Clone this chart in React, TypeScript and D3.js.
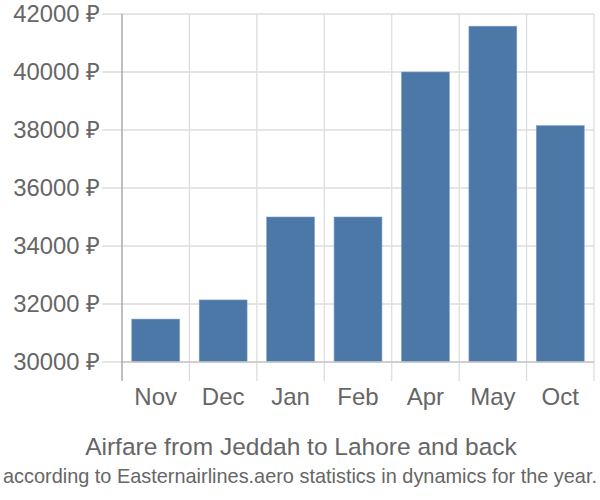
import React from "react";
import * as d3 from "d3";

const months = ["Nov", "Dec", "Jan", "Feb", "Apr", "May", "Oct"];
const prices = [31480, 32140, 35000, 35000, 40000, 41580, 38150];
const yTicks = [30000, 32000, 34000, 36000, 38000, 40000, 42000];
const title = "Airfare from Jeddah to Lahore and back";
const subtitle = "according to Easternairlines.aero statistics in dynamics for the year.";

const W = 600, H = 500;
const left = 122, right = 594, top = 14, bottom = 381;

export default function App() {
  const x = d3.scaleBand<string>().domain(months).range([left, right]).paddingInner(0.29).paddingOuter(0.145);
  const grid = d3.scaleBand<string>().domain(months).range([left, right]);
  const y = d3.scaleLinear().domain([30000, 42000]).range([362, top]);
  const font = "'Liberation Sans', Arial, sans-serif";
  return (
    <svg width={W} height={H} style={{ position: "absolute", left: 0, top: 0 }} fontFamily={font}>
      {yTicks.map((t) => (
        <g key={t}>
          <line x1={102} x2={right} y1={y(t)} y2={y(t)} stroke="#dddddd" strokeWidth={1.3} />
          <text x={100} y={y(t)} dy="0.35em" textAnchor="end" fontSize={23.8} fill="#666">{`${t} ₽`}</text>
        </g>
      ))}
      {months.map((m) => (
        <line key={m} x1={(grid(m) as number) + grid.bandwidth()} x2={(grid(m) as number) + grid.bandwidth()} y1={top} y2={bottom} stroke="#dddddd" strokeWidth={1.3} />
      ))}
      {months.map((m, i) => (
        <rect key={m} x={x(m)} y={y(prices[i])} width={x.bandwidth()} height={y(30000) - y(prices[i])} fill="#4c78a8" stroke="#7f9fc5" strokeWidth={0.6} />
      ))}
      <line x1={left} x2={right} y1={y(30000)} y2={y(30000)} stroke="#c8c8c8" strokeWidth={1.3} />
      <line x1={left} x2={left} y1={top} y2={bottom} stroke="#aaaaaa" strokeWidth={1.5} />
      {months.map((m) => (
        <text key={m} x={(x(m) as number) + x.bandwidth() / 2} y={404.5} textAnchor="middle" fontSize={24} fill="#666">{m}</text>
      ))}
      <text x={301} y={454.5} textAnchor="middle" fontSize={24.5} fill="#666">{title}</text>
      <text x={300} y={482.5} textAnchor="middle" fontSize={19.8} fill="#666" textLength={594} lengthAdjust="spacingAndGlyphs">{subtitle}</text>
    </svg>
  );
}
